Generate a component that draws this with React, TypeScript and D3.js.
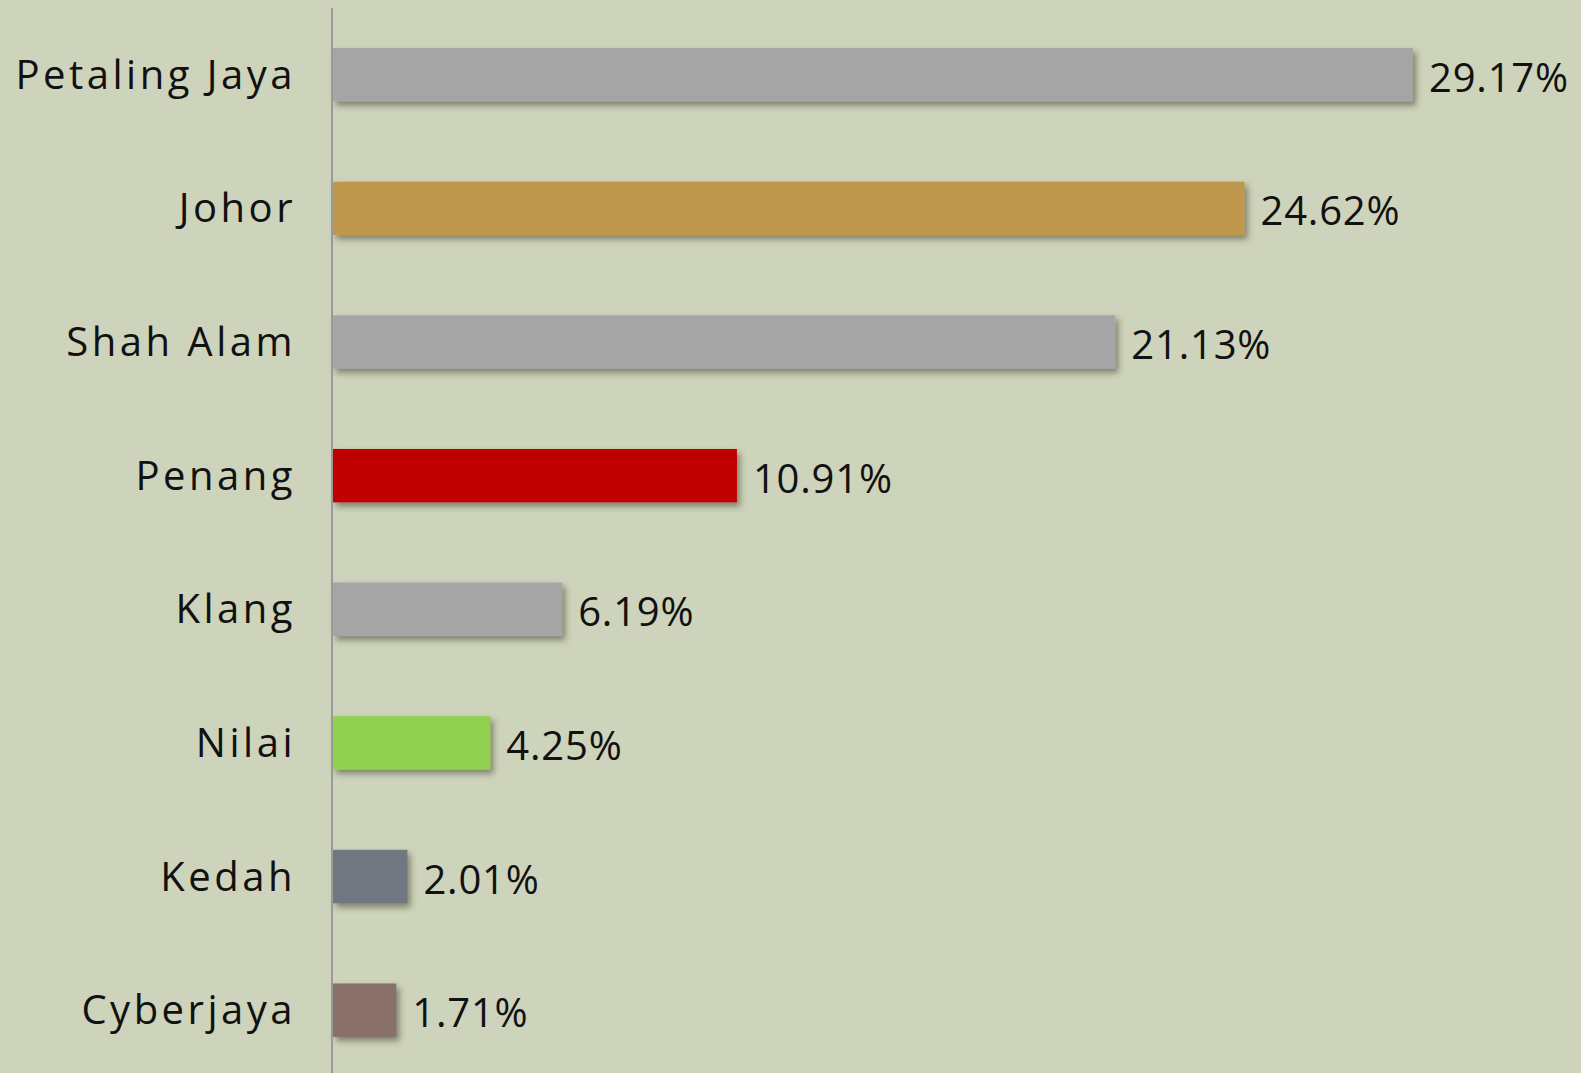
import React from "react";
import * as d3 from "d3";

const categories = ["Petaling Jaya", "Johor", "Shah Alam", "Penang", "Klang", "Nilai", "Kedah", "Cyberjaya"];
const values = [29.17, 24.62, 21.13, 10.91, 6.19, 4.25, 2.01, 1.71];
const labels = ["29.17%", "24.62%", "21.13%", "10.91%", "6.19%", "4.25%", "2.01%", "1.71%"];
const colors = ["#A5A5A5", "#BF974D", "#A5A5A5", "#C00000", "#A5A5A5", "#92D050", "#6F7780", "#8A706A"];

const W = 1581;
const H = 1073;
const X0 = 333;

export default function App() {
  const x = d3.scaleLinear().domain([0, 29.17]).range([X0, 1413]);
  const y = d3
    .scaleBand<string>()
    .domain(categories)
    .range([8, 1077])
    .paddingInner(0.6)
    .paddingOuter(0.3);
  const font = "'Open Sans', 'DejaVu Sans', sans-serif";
  return (
    <svg
      width={W}
      height={H}
      style={{ position: "absolute", left: 0, top: 0, display: "block" }}
    >
      <defs>
        <filter id="sh" x="-10%" y="-30%" width="130%" height="180%">
          <feDropShadow dx="3" dy="4" stdDeviation="3" floodColor="#3a3d2c" floodOpacity="0.55" />
        </filter>
      </defs>
      <rect x={0} y={0} width={W} height={H} fill="#CED3BB" />
      {categories.map((c, i) => {
        const yy = y(c)!;
        const bw = y.bandwidth();
        return (
          <g key={c}>
            <rect
              x={x(0)}
              y={yy}
              width={x(values[i]) - x(0)}
              height={bw}
              fill={colors[i]}
              filter="url(#sh)"
            />
            <text
              x={296}
              y={yy + bw / 2 + 14}
              textAnchor="end"
              fontFamily={font}
              fontSize={40}
              letterSpacing={3.5}
              fill="#111"
            >
              {c}
            </text>
            <text
              x={x(values[i]) + 16}
              y={yy + bw / 2 + 17}
              textAnchor="start"
              fontFamily={font}
              fontSize={40}
              letterSpacing={0.8}
              fill="#111"
            >
              {labels[i]}
            </text>
          </g>
        );
      })}
      <line x1={332} x2={332} y1={8} y2={H} stroke="#9A9A9A" strokeWidth={2} />
    </svg>
  );
}
